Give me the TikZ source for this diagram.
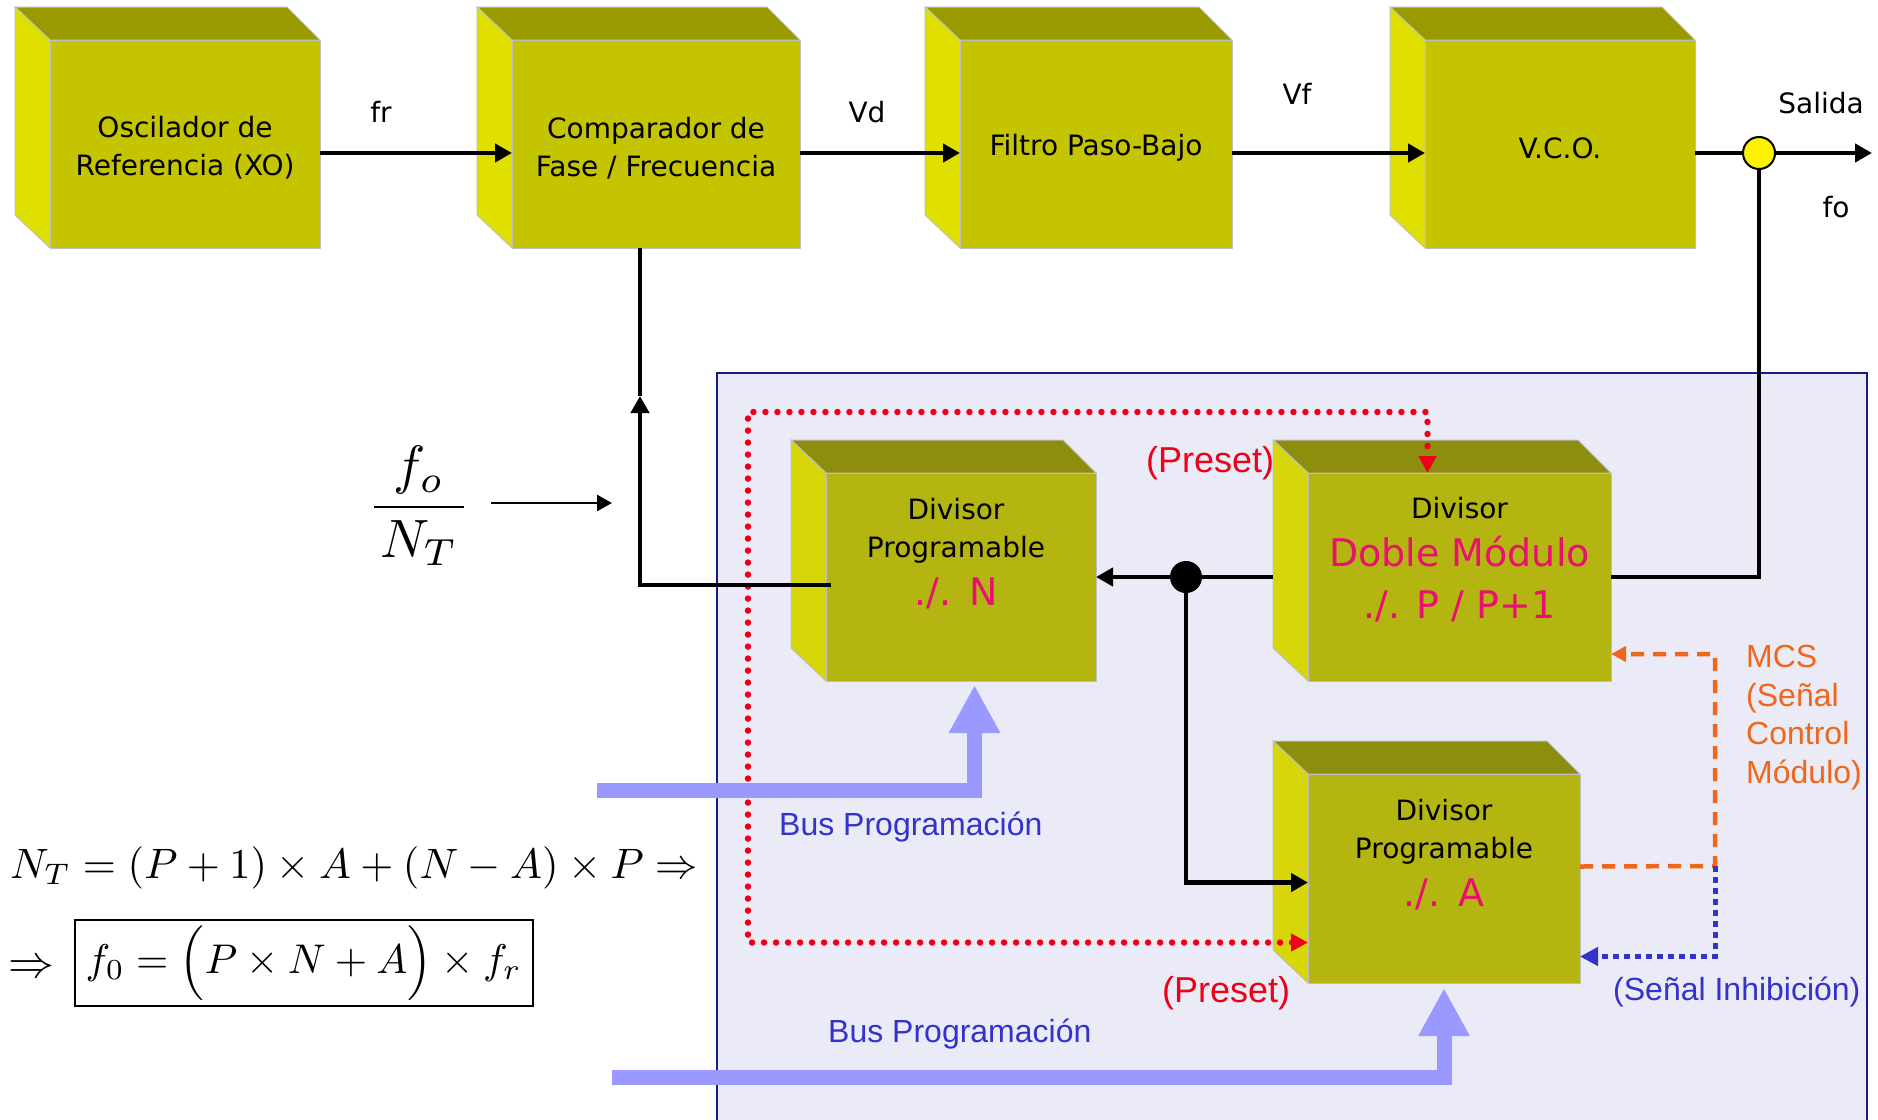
\documentclass[tikz,border=0pt]{standalone}
\usepackage{fontspec}
\usepackage{graphicx}
\usetikzlibrary{positioning, arrows.meta}
\newfontfamily\tahoma{DejaVu Sans}
\newfontfamily\arial{Liberation Sans}

\definecolor{amfrente}{RGB}{196,196,0}
\definecolor{amfrente2}{RGB}{181,181,18}
\definecolor{rosa}{RGB}{232,16,112}
\definecolor{rojo}{RGB}{238,0,24}
\definecolor{naranja}{RGB}{240,102,26}
\definecolor{azul}{RGB}{51,51,204}
\definecolor{buscol}{RGB}{153,153,255}
\definecolor{panelcol}{RGB}{235,235,247}
\definecolor{borde}{RGB}{26,26,140}

\newcommand{\modtxt}[1]{{\color{rosa}\fontsize{38}{40}\selectfont #1}}

\tikzset{
    bloque/.style={
        rectangle,
        fill=#1,
        draw=black!25,
        line width=1pt,
        outer sep=0pt,
        inner sep=0pt,
        minimum width=270pt,
        minimum height=208pt,
        align=center,
        font=\tahoma\fontsize{28}{38}\selectfont,
        append after command={\pgfextra{
            \filldraw[fill=#1!78!black, draw=black!25, line width=1pt]
                (\tikzlastnode.north west) -- ++(-35,-33)
                -- ([shift={(-33,-33)}]\tikzlastnode.north east)
                -- (\tikzlastnode.north east) -- cycle;
            \filldraw[fill=#1!55!yellow, draw=black!25, line width=1pt]
                (\tikzlastnode.north west) -- ++(-35,-33)
                -- ([shift={(-35,-33)}]\tikzlastnode.south west)
                -- (\tikzlastnode.south west) -- cycle;
        }}
    },
    bloque/.default=amfrente
}
\tikzstyle{textodiv} = [
    font=\tahoma\fontsize{28}{38}\selectfont,
    align=center
]
\tikzstyle{senal} = [
    font=\tahoma\fontsize{28}{34}\selectfont,
    anchor=base,
    inner sep=0pt
]
\tikzstyle{nota} = [
    font=\arial\fontsize{32}{38.6}\selectfont,
    anchor=base west,
    inner sep=0pt
]
\tikzstyle{salida} = [circle, fill=yellow, draw=black, line width=2pt, minimum size=32pt, inner sep=0pt]
\tikzstyle{nodo} = [circle, fill=black, minimum size=32pt, inner sep=0pt]
\tikzstyle{linea} = [line width=4.8pt]
\tikzstyle{flecha} = [line width=4.8pt, -{Triangle[length=17pt,width=18pt]}]
\tikzstyle{flechafina} = [line width=2.5pt, -{Triangle[length=15pt,width=16pt]}]
\tikzstyle{preset} = [
    rojo,
    line width=6.5pt,
    line cap=round,
    dash pattern=on 0pt off 12pt,
    {Triangle[length=17pt,width=17pt]}-{Triangle[length=17pt,width=17pt]}
]
\tikzstyle{mcs} = [naranja, line width=4.5pt, dash pattern=on 13pt off 9pt, -{Triangle[length=15pt,width=15pt]}]
\tikzstyle{inhib} = [azul, line width=5pt, dash pattern=on 6pt off 5pt, -{Triangle[length=18pt,width=18pt]}]
\tikzstyle{bus} = [draw=buscol, line width=15pt, line join=miter, -{Triangle[length=48pt,width=48pt]}]

\begin{document}
\begin{tikzpicture}[x=1pt, y=-1pt]
\useasboundingbox (0,0) rectangle (1878,1119);

% zona del divisor
\draw[fill=panelcol, draw=borde, line width=2pt] (717,373) rectangle (1867,1140);

% lazo principal
\node (osc) [bloque] at (185,144) {\rule{0pt}{29pt}Oscilador de\\Referencia (XO)};
\node (comp) [bloque, minimum width=288pt, right=192pt of osc] {\rule{0pt}{29pt}Comparador de\\Fase / Frecuencia};
\node (filt) [bloque, minimum width=272pt, right=160pt of comp] {\rule{0pt}{29pt}Filtro Paso-Bajo};
\node (vco) [bloque, right=193pt of filt] {\rule{0pt}{29pt}V.C.O.};

% divisores
\node (dbl) [bloque=amfrente2, minimum width=303pt,
    label={[textodiv, yshift=17pt]center:{Divisor\\[10pt]\modtxt{Doble Módulo}\\[14pt]\modtxt{./. P / P+1}}}]
    at (1459.5,577) {};
\node (divn) [bloque=amfrente2, left=212pt of dbl,
    label={[textodiv, xshift=-5pt, yshift=23pt]center:{Divisor\\Programable\\[10pt]\modtxt{./.\ \,N}}}] {};
\node (diva) [bloque=amfrente2, minimum width=272pt, minimum height=209pt,
    below=93pt of dbl.south west, anchor=north west,
    label={[textodiv, yshift=24pt]center:{Divisor\\Programable\\[10pt]\modtxt{./.\ \,A}}}] {};

% preset
\coordinate (pre) at (748,412);
\draw[preset] ([yshift=-64pt]diva.west) -| (pre) -| ([xshift=-32pt]dbl.north);

% buses de programacion
\coordinate (busn) at (597,790);
\coordinate (busa) at (612,1077);
\draw[bus] (busn) -| ([xshift=13.5pt,yshift=-4pt]divn.south);
\draw[bus] (busa) -| ([yshift=-5pt]diva.south);

% control de modulo e inhibicion
\coordinate (mcsc) at (1715,866);
\draw[mcs] ([yshift=12pt]diva.east) -- (mcsc) |- ([yshift=-77pt]dbl.east);
\draw[inhib] (mcsc) |- ([yshift=-78pt]diva.east);

% senales
\draw[flecha] ([yshift=-9pt]osc.east) -- ([yshift=-9pt]comp.west);
\draw[flecha] ([yshift=-9pt]comp.east) -- ([yshift=-9pt]filt.west);
\draw[flecha] ([yshift=-9pt]filt.east) -- ([yshift=-9pt]vco.west);

\node (sal) [salida] at (1759,153) {};
\coordinate (fsal) at (1872,153);
\draw[linea] ([yshift=-9pt]vco.east) -- (sal);
\draw[flecha] (sal) -- (fsal);
\draw[linea] (sal) |- (dbl.east);

\node (bif) [nodo] at (1186,577) {};
\draw[linea] (bif) -- ([xshift=-35pt]dbl.west);
\draw[flecha] (bif) -- (divn.east);
\draw[flecha] (bif) |- ([yshift=-4pt]diva.west);

\coordinate (fbup) at (640,396);
\draw[flecha] ([xshift=5pt,yshift=-8pt]divn.west) -| (fbup);
\draw[linea] (fbup) -- (fbup |- comp.south);

% fo / NT
\node (frac) at (419,506) {\scalebox{5.4}{$\displaystyle\frac{f_o}{\mkern2mu N_T\mkern2mu}$}};
\coordinate (fn0) at (491,503);
\coordinate (fn1) at (612,503);
\draw[flechafina] (fn0) -- (fn1);

% ecuaciones
\node (ecnt) [anchor=base west, inner sep=0pt] at (10,878)
    {\scalebox{4.25}{$N_T = (P+1)\times A+(N-A)\times P \Rightarrow$}};
\node (impl) [anchor=base west, inner sep=0pt] at (8,977) {\scalebox{4.6}{$\Rightarrow$}};
\node (fres) [draw, line width=2.5pt, minimum width=458pt, minimum height=86pt, inner xsep=6pt, anchor=west]
    at (73.5,963) {\scalebox{4.15}{$f_0 = \Bigl(P\times N+A\Bigr)\times f_r$}};

% etiquetas
\node (lfr) [senal] at (381,122) {fr};
\node (lvd) [senal] at (867,122) {Vd};
\node (lvf) [senal] at (1297,104) {Vf};
\node (lsal) [senal] at (1821,113) {Salida};
\node (lfo) [senal] at (1836,217) {fo};

\node (pre1) [nota, text=rojo, font=\arial\fontsize{36}{40}\selectfont] at (1146,472) {(Preset)};
\node (pre2) [nota, text=rojo, font=\arial\fontsize{36}{40}\selectfont] at (1162,1002) {(Preset)};
\node (lbus1) [nota, text=azul] at (779,835) {Bus Programación};
\node (lbus2) [nota, text=azul] at (828,1042) {Bus Programación};
\node (linh) [nota, text=azul] at (1613,1000) {(Señal Inhibición)};
\node (lmcs) [nota, text=naranja, align=left, anchor=north west] at (1746,645) {MCS\\(Señal\\Control\\Módulo)};

\end{tikzpicture}
\end{document}
